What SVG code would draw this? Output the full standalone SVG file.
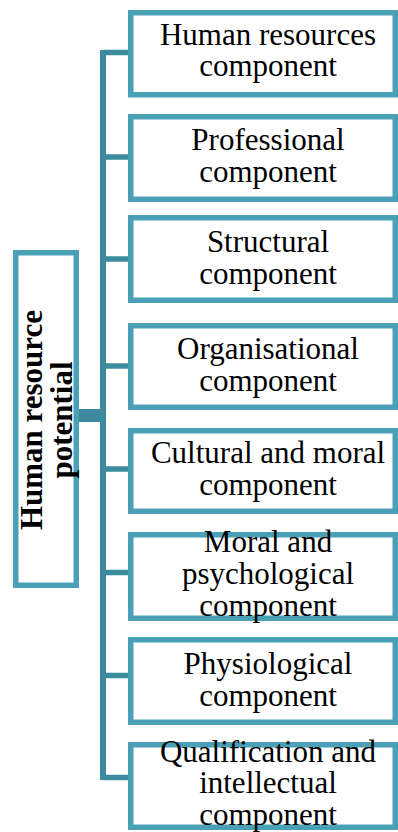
<svg xmlns="http://www.w3.org/2000/svg" width="398" height="832" viewBox="0 0 398 832">
  <style>
    .box { fill: #ffffff; stroke: #49a0b7; stroke-width: 5.5; }
    .lbl { font-family: "Liberation Serif", "Times New Roman", serif; font-size: 31px; fill: #000000; text-anchor: middle; }
    .root { font-weight: bold; }
    .wire { stroke: #3d8a9f; fill: none; }
  </style>

  <!-- connectors: root stub, vertical spine and one branch per component -->
  <g id="connectors">
    <rect x="79" y="409" width="22" height="13" fill="#3d8a9f"/>
    <line class="wire" x1="103" y1="50" x2="103" y2="780" stroke-width="6"/>
    <g stroke-width="5.5">
      <line class="wire" x1="103" y1="52.5" x2="130" y2="52.5"/>
      <line class="wire" x1="103" y1="157" x2="130" y2="157"/>
      <line class="wire" x1="103" y1="259" x2="130" y2="259"/>
      <line class="wire" x1="103" y1="366" x2="130" y2="366"/>
      <line class="wire" x1="103" y1="469" x2="130" y2="469"/>
      <line class="wire" x1="103" y1="572.5" x2="130" y2="572.5"/>
      <line class="wire" x1="103" y1="675.5" x2="130" y2="675.5"/>
      <line class="wire" x1="103" y1="777.5" x2="130" y2="777.5"/>
    </g>
  </g>

  <!-- root node, label rotated to read bottom to top -->
  <g id="root">
    <rect class="box" x="15.75" y="252.75" width="60.5" height="332.5"/>
    <g transform="translate(42,420) rotate(-90)">
      <text class="lbl root" x="0" y="0">Human resource</text>
      <text class="lbl root" x="0" y="30">potential</text>
    </g>
  </g>

  <g id="human-resources">
    <rect class="box" x="130.75" y="12.75" width="264.5" height="82"/>
    <text class="lbl" x="268" y="45">Human resources</text>
    <text class="lbl" x="268" y="76">component</text>
  </g>

  <g id="professional">
    <rect class="box" x="130.75" y="116.75" width="264.5" height="82.5"/>
    <text class="lbl" x="268" y="150">Professional</text>
    <text class="lbl" x="268" y="182">component</text>
  </g>

  <g id="structural">
    <rect class="box" x="130.75" y="217.75" width="264.5" height="82.5"/>
    <text class="lbl" x="268" y="252">Structural</text>
    <text class="lbl" x="268" y="284">component</text>
  </g>

  <g id="organisational">
    <rect class="box" x="130.75" y="325.75" width="264.5" height="81.5"/>
    <text class="lbl" x="268" y="359">Organisational</text>
    <text class="lbl" x="268" y="391">component</text>
  </g>

  <g id="cultural-moral">
    <rect class="box" x="130.75" y="430.75" width="264.5" height="80.5"/>
    <text class="lbl" x="268" y="463">Cultural and moral</text>
    <text class="lbl" x="268" y="495">component</text>
  </g>

  <g id="moral-psychological">
    <rect class="box" x="130.75" y="534.75" width="264.5" height="83.5"/>
    <text class="lbl" x="268" y="552">Moral and</text>
    <text class="lbl" x="268" y="584">psychological</text>
    <text class="lbl" x="268" y="616">component</text>
  </g>

  <g id="physiological">
    <rect class="box" x="130.75" y="639.75" width="264.5" height="82.5"/>
    <text class="lbl" x="268" y="674">Physiological</text>
    <text class="lbl" x="268" y="706">component</text>
  </g>

  <g id="qualification-intellectual">
    <rect class="box" x="130.75" y="744.75" width="264.5" height="82.5"/>
    <text class="lbl" x="268" y="762">Qualification and</text>
    <text class="lbl" x="268" y="793">intellectual</text>
    <text class="lbl" x="268" y="825">component</text>
  </g>
</svg>
